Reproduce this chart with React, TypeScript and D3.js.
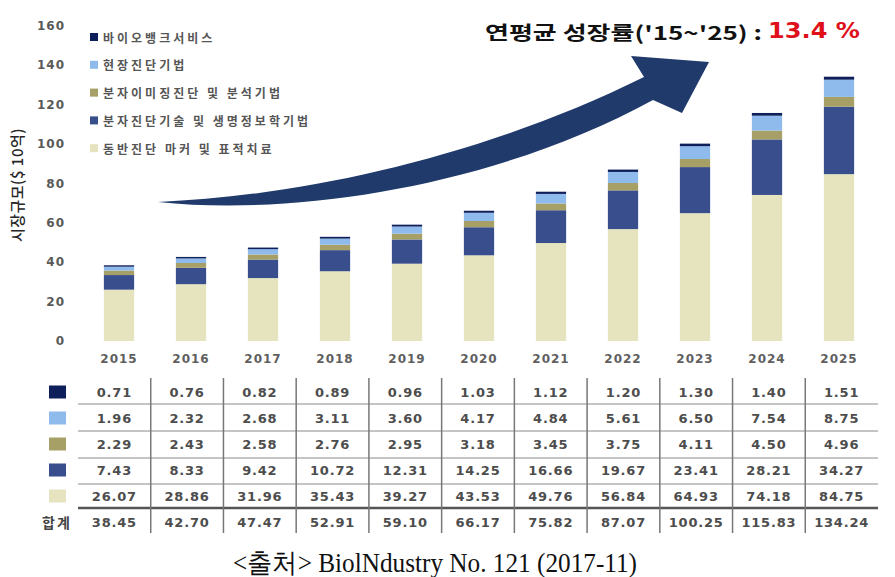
import React from 'react';
import * as d3 from 'd3';

const years = ['2015', '2016', '2017', '2018', '2019', '2020', '2021', '2022', '2023', '2024', '2025'];
const biobank = [0.71, 0.76, 0.82, 0.89, 0.96, 1.03, 1.12, 1.2, 1.3, 1.4, 1.51];
const poc = [1.96, 2.32, 2.68, 3.11, 3.6, 4.17, 4.84, 5.61, 6.5, 7.54, 8.75];
const imaging = [2.29, 2.43, 2.58, 2.76, 2.95, 3.18, 3.45, 3.75, 4.11, 4.5, 4.96];
const molecular = [7.43, 8.33, 9.42, 10.72, 12.31, 14.25, 16.66, 19.67, 23.41, 28.21, 34.27];
const companion = [26.07, 28.86, 31.96, 35.43, 39.27, 43.53, 49.76, 56.84, 64.93, 74.18, 84.75];
const totals = [38.45, 42.7, 47.47, 52.91, 59.1, 66.17, 75.82, 87.07, 100.25, 115.83, 134.24];
const seriesNames = ['바이오뱅크서비스', '현장진단기법', '분자이미징진단 및 분석기법', '분자진단기술 및 생명정보학기법', '동반진단 마커 및 표적치료'];
const seriesKeys = ['biobank', 'poc', 'imaging', 'molecular', 'companion'];
const seriesValues = [biobank, poc, imaging, molecular, companion];
const seriesColors = ['#0e1f5b', '#8fbbec', '#a6a067', '#394f8d', '#e6e3bf'];
const yTicks = [0, 20, 40, 60, 80, 100, 120, 140, 160];
const titleText = "연평균 성장률('15~'25) :";
const rateText = '13.4 %';
const yTitle = '시장규모($ 10억)';
const totalLabel = '합계';
const sourceText = '<출처> BiolNdustry No. 121 (2017-11)';

export default function App() {
  const W = 895, H = 577;
  const x = d3.scaleBand<string>().domain(years).range([83, 875]).paddingInner(0.58).paddingOuter(0.29);
  const y = d3.scaleLinear().domain([0, 160]).range([341, 26]);
  const rows = years.map((yr, i) => {
    const r: any = { year: yr };
    seriesKeys.forEach((k, j) => (r[k] = seriesValues[j][i]));
    return r;
  });
  const stackKeys = [...seriesKeys].reverse();
  const stacked = d3.stack<any>().keys(stackKeys)(rows);
  const colorOf = (k: string) => seriesColors[seriesKeys.indexOf(k)];

  const tx = d3.scaleBand<string>().domain(years).range([78, 878]);
  const tableRows = [...seriesValues, totals];
  const rowY = d3.scalePoint<number>().domain(d3.range(6)).range([392, 522]);
  const rowLines = [404, 431, 458, 484];

  const num = { fontFamily: '"DejaVu Sans", sans-serif', fontWeight: 700 as any };

  // decorative arrow
  const arrow = d3.path();
  arrow.moveTo(158, 202);
  arrow.bezierCurveTo(300, 217, 500, 184, 653, 100);
  arrow.lineTo(682, 113);
  arrow.lineTo(709, 62);
  arrow.lineTo(631, 56);
  arrow.lineTo(644, 77);
  arrow.bezierCurveTo(480, 158, 300, 196, 158, 202);
  arrow.closePath();

  return (
    <svg width={W} height={H} style={{ position: 'absolute', left: 0, top: 0, background: '#fff' }}>
      <rect width={W} height={H} fill="#fff" />
      {/* y ticks */}
      {yTicks.map((t) => (
        <text key={t} x={65} y={y(t)} textAnchor="end" dominantBaseline="central" fontSize={12} letterSpacing={1} fill="#595959" style={num}>
          {t}
        </text>
      ))}
      <text transform={`translate(16,185) rotate(-90)`} textAnchor="middle" dominantBaseline="central" fontSize={15} fontWeight={500} letterSpacing={0.5} fill="#262626" fontFamily='"Noto Sans CJK KR", sans-serif'>
        {yTitle}
      </text>
      {/* bars */}
      {stacked.map((s) => (
        <g key={s.key} fill={colorOf(s.key)}>
          {s.map((d, i) => (
            <rect key={i} x={x(years[i])} width={x.bandwidth()} y={y(d[1])} height={y(d[0]) - y(d[1])} />
          ))}
        </g>
      ))}
      {/* year labels */}
      {years.map((yr) => (
        <text key={yr} x={(x(yr) as number) + x.bandwidth() / 2} y={359} textAnchor="middle" dominantBaseline="central" fontSize={12} letterSpacing={1} fill="#606060" style={num}>
          {yr}
        </text>
      ))}
      {/* arrow */}
      <path d={arrow.toString()} fill="#1f3a6b" />
      {/* legend */}
      {seriesNames.map((n, i) => (
        <g key={n} transform={`translate(90, ${37 + i * 27.8})`}>
          <rect x={0} y={-4} width={8} height={8} fill={seriesColors[i]} />
          <text x={13} y={0} dominantBaseline="central" fontSize={12} letterSpacing={3} fill="#555" fontWeight={600} fontFamily='"Noto Sans CJK KR", sans-serif'>
            {n}
          </text>
        </g>
      ))}
      {/* title */}
      <text x={485} y={31} dominantBaseline="central" fontSize={19} fontWeight={700} textLength={277} lengthAdjust="spacingAndGlyphs" fill="#111" fontFamily='"Noto Sans CJK KR", sans-serif'>
        {titleText}
      </text>
      <text x={768} y={31} dominantBaseline="central" fontSize={21} fontWeight={700} textLength={92} lengthAdjust="spacingAndGlyphs" fill="#e0101a" fontFamily='"DejaVu Sans", sans-serif'>
        {rateText}
      </text>
      {/* table */}
      {rowLines.map((ly) => (
        <line key={ly} x1={78} x2={878} y1={ly} y2={ly} stroke="#8a8a8a" strokeWidth={1} />
      ))}
      <line x1={78} x2={878} y1={508} y2={508} stroke="#555" strokeWidth={2.5} />
      {years.slice(1).map((yr) => (
        <line key={yr} x1={tx(yr)} x2={tx(yr)} y1={378} y2={533} stroke="#777" strokeWidth={1.5} />
      ))}
      {seriesColors.map((c, i) => (
        <rect key={c} x={49} y={rowY(i)! - 6.5} width={17} height={13} fill={c} />
      ))}
      <text x={57} y={rowY(5)} textAnchor="middle" dominantBaseline="central" fontSize={14} fontWeight={700} letterSpacing={2} fill="#444" fontFamily='"Noto Sans CJK KR", sans-serif'>
        {totalLabel}
      </text>
      {tableRows.map((vals, r) =>
        vals.map((v, i) => (
          <text key={`${r}-${i}`} x={(tx(years[i]) as number) + tx.bandwidth() / 2} y={rowY(r)} textAnchor="middle" dominantBaseline="central" fontSize={13} letterSpacing={0.8} fill="#4d4d4d" style={num}>
            {v.toFixed(2)}
          </text>
        ))
      )}
      {/* source */}
      <text x={233} y={572} fontSize={27} fill="#111" textLength={404} lengthAdjust="spacingAndGlyphs" fontFamily='"Liberation Serif", "DejaVu Serif", serif'>
        {sourceText}
      </text>
    </svg>
  );
}
